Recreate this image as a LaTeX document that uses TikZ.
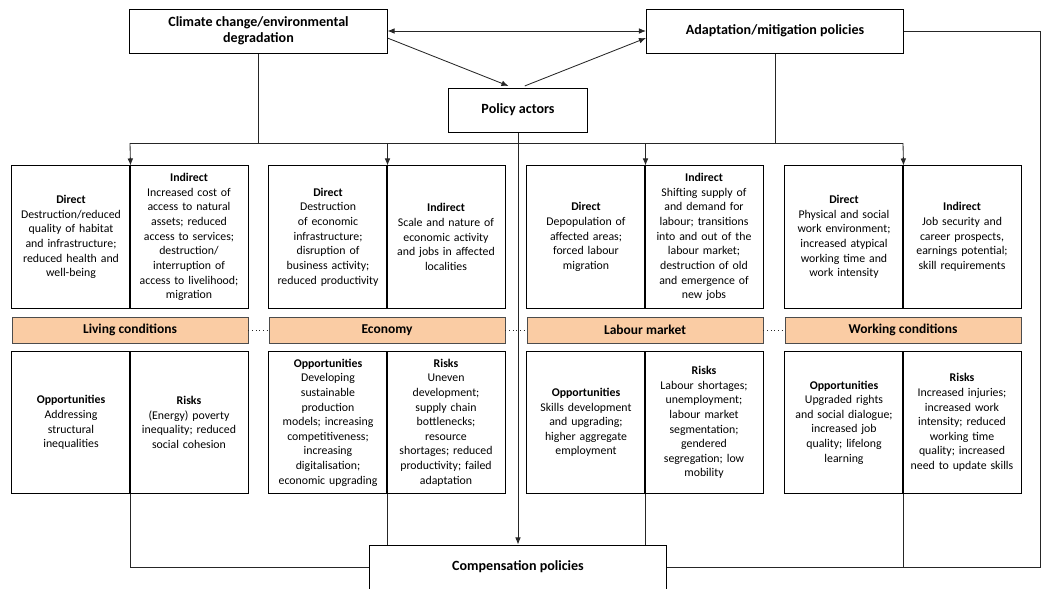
\documentclass[tikz,border=0pt]{standalone}
\usepackage{fontspec}
\setmainfont{Carlito}
\usetikzlibrary{arrows.meta}
\definecolor{barfill}{RGB}{250,204,164}

\begin{document}
\begin{tikzpicture}[x=0.025cm, y=-0.025cm,
    box/.style={draw, line width=0.7pt, minimum width=6.425cm, minimum height=1.1cm, align=center, font=\fontsize{10}{11.5}\selectfont\bfseries},
    half/.style={draw, line width=0.7pt, minimum width=2.95cm, text width=2.8cm, inner sep=0pt, align=center, font=\fontsize{8.4}{10.4}\selectfont},
    tophalf/.style={half, minimum height=3.55cm},
    bothalf/.style={half, minimum height=3.525cm},
    bar/.style={draw=black!70, line width=0.6pt, fill=barfill, minimum width=5.9cm, minimum height=0.65cm, font=\fontsize{9.6}{11}\selectfont\bfseries},
    link/.style={line width=0.6pt, black!85},
    arr/.style={link, -{Latex[length=5pt,width=4pt]}}]
    \useasboundingbox (0,0) rectangle (1048,588);

    % top row
    \node[box] (clim) at (258.5,31) {Climate change/environmental\\degradation};
    \node[box] (adapt) at (775,31) {Adaptation/mitigation policies};
    \node[box, minimum width=3.45cm] (pol) at (518,110) {Policy actors};
    \node[box, minimum width=7.4cm] (comp) at (518,567) {Compensation policies};

    % impacts
    \node[tophalf] (d1) at (71,237) {\textbf{Direct}\\Destruction/reduced\\quality of habitat\\and infrastructure;\\reduced health and\\well-being};
    \node[tophalf] (i1) at (189,237) {\textbf{Indirect}\\Increased cost of\\access to natural\\assets; reduced\\access to services;\\destruction/\\interruption of\\access to livelihood;\\migration};
    \node[tophalf] (d2) at (328,237) {\textbf{Direct}\\Destruction\\of economic\\infrastructure;\\disruption of\\business activity;\\reduced productivity};
    \node[tophalf] (i2) at (446,237) {\textbf{Indirect}\\Scale and nature of\\economic activity\\and jobs in affected\\localities};
    \node[tophalf] (d3) at (586,237) {\textbf{Direct}\\Depopulation of\\affected areas;\\forced labour\\migration};
    \node[tophalf] (i3) at (704,237) {\textbf{Indirect}\\Shifting supply of\\and demand for\\labour; transitions\\into and out of the\\labour market;\\destruction of old\\and emergence of\\new jobs};
    \node[tophalf] (d4) at (844,237) {\textbf{Direct}\\Physical and social\\work environment;\\increased atypical\\working time and\\work intensity};
    \node[tophalf] (i4) at (962,237) {\textbf{Indirect}\\Job security and\\career prospects,\\earnings potential;\\skill requirements};

    % domains
    \node[bar] (b1) at (130,330) {Living conditions};
    \node[bar] (b2) at (387,330) {Economy};
    \node[bar] (b3) at (645,330) {Labour market};
    \node[bar] (b4) at (903,330) {Working conditions};

    % opportunities and risks
    \node[bothalf] (o1) at (71,422.5) {\textbf{Opportunities}\\Addressing\\structural\\inequalities};
    \node[bothalf] (r1) at (189,422.5) {\textbf{Risks}\\(Energy) poverty\\inequality; reduced\\social cohesion};
    \node[bothalf] (o2) at (328,422.5) {\textbf{Opportunities}\\Developing\\sustainable\\production\\models; increasing\\competitiveness;\\increasing\\digitalisation;\\economic upgrading};
    \node[bothalf] (r2) at (446,422.5) {\textbf{Risks}\\Uneven\\development;\\supply chain\\bottlenecks;\\resource\\shortages; reduced\\productivity; failed\\adaptation};
    \node[bothalf] (o3) at (586,422.5) {\textbf{Opportunities}\\Skills development\\and upgrading;\\higher aggregate\\employment};
    \node[bothalf] (r3) at (704,422.5) {\textbf{Risks}\\Labour shortages;\\unemployment;\\labour market\\segmentation;\\gendered\\segregation; low\\mobility};
    \node[bothalf] (o4) at (844,422.5) {\textbf{Opportunities}\\Upgraded rights\\and social dialogue;\\increased job\\quality; lifelong\\learning};
    \node[bothalf] (r4) at (962,422.5) {\textbf{Risks}\\Increased injuries;\\increased work\\intensity; reduced\\working time\\quality; increased\\need to update skills};

    \coordinate (j1) at (130,143);
    \coordinate (j4) at (903,143);
    \coordinate (rc) at (1040,567);

    \draw[link, {Latex[length=5pt,width=4pt]}-{Latex[length=5pt,width=4pt]}] (clim) -- (adapt);
    \draw[arr, shorten >=3pt] ([yshift=-5pt]clim.east) -- ([xshift=-4pt]pol.north);
    \draw[arr, shorten <=3pt] ([xshift=2pt]pol.north) -- ([yshift=-5pt]adapt.west);

    \draw[link] (clim.south) -- (clim.south |- j1);
    \draw[link] (adapt.south) -- (adapt.south |- j1);
    \draw[link] (j1) -- (j4);
    \draw[arr] (j1) -- (d1.north east);
    \draw[arr] (d2.north east |- j1) -- (d2.north east);
    \draw[arr] (d3.north east |- j1) -- (d3.north east);
    \draw[arr] (j4) -- (d4.north east);
    \draw[arr] (pol) -- (comp);

    \draw[link, dotted] (b1) -- (b2);
    \draw[link, dotted] (b2) -- (b3);
    \draw[link, dotted] (b3) -- (b4);

    \draw[link] (o1.south east) |- (comp.west);
    \draw[link] (o2.south east) -- (o2.south east |- comp.north);
    \draw[link] (o3.south east) -- (o3.south east |- comp.north);
    \draw[link] (o4.south east) -- (o4.south east |- rc);
    \draw[link] (adapt.east) -| (rc) -- (comp.east);
  \end{tikzpicture}
\end{document}
